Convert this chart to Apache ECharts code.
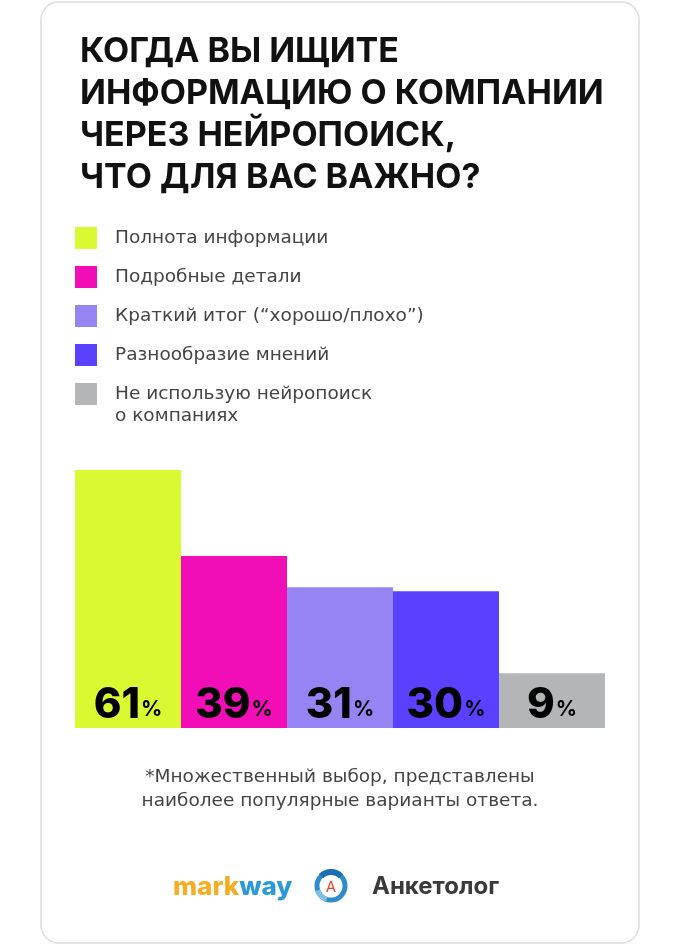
<!DOCTYPE html>
<html><head><meta charset="utf-8">
<script src="https://cdn.jsdelivr.net/npm/echarts@6/dist/echarts.min.js"></script>
<style>html,body{margin:0;padding:0;background:#fff}#c{width:680px;height:946px}</style>
</head><body><div id="c"></div>
<script>
const titleLines = ['КОГДА ВЫ ИЩИТЕ', 'ИНФОРМАЦИЮ О КОМПАНИИ', 'ЧЕРЕЗ НЕЙРОПОИСК,', 'ЧТО ДЛЯ ВАС ВАЖНО?'];
const categories = ['Полнота информации', 'Подробные детали', 'Краткий итог (“хорошо/плохо”)', 'Разнообразие мнений', 'Не использую нейропоиск'];
const categoryExtraLine = 'о компаниях';
const values = [61, 39, 31, 30, 9];
const colors = ['#DAF932', '#F10EB6', '#9584F2', '#5A41FF', '#B3B5B6'];
const footnoteLines = ['*Множественный выбор, представлены', 'наиболее популярные варианты ответа.'];
const axisStart = -5;

const FONT = 'Inter, "Open Sans", sans-serif';
const BODY = '"DejaVu Sans", sans-serif';
const chart = echarts.init(document.getElementById('c'), null, {renderer: 'canvas'});

const series = categories.map((c, i) => ({
  name: c, type: 'bar', barGap: '-100%', barCategoryGap: 0,
  itemStyle: {color: colors[i]},
  data: values.map((v, j) => j === i ? v : '-'),
  label: {
    show: true, position: 'insideBottom', distance: 0, offset: [0, -2],
    formatter: p => '{n|' + p.value + '}{p|%}',
    rich: {
      n: {fontSize: 42, fontWeight: 800, color: '#000', fontFamily: FONT},
      p: {fontSize: 21, fontWeight: 700, color: '#000', fontFamily: FONT, padding: [10, 0, 0, 1]}
    }
  }
}));

chart.setOption({
  animation: false,
  title: {
    text: titleLines.join('\n'), left: 75, top: 26,
    textStyle: {fontSize: 34, fontWeight: 700, color: '#111', lineHeight: 42, fontFamily: FONT}
  },
  legend: {
    data: categories, orient: 'vertical', left: 75, top: 227, padding: 0,
    itemWidth: 22, itemHeight: 22, itemGap: 17, icon: 'rect', selectedMode: false,
    textStyle: {fontSize: 18.5, color: '#444', fontFamily: BODY, lineHeight: 22, padding: [0, 0, 0, 13]}
  },
  grid: {left: 75, right: 75, top: 470, bottom: 218},
  xAxis: {type: 'category', data: categories, show: false},
  yAxis: {type: 'value', min: axisStart, startValue: axisStart, max: values[0], show: false},
  series: series,
  graphic: [
    {type: 'rect', shape: {x: 41, y: 2, width: 598, height: 941, r: 18}, style: {fill: 'none', stroke: '#DCDCDC', lineWidth: 1.5}, z: -1},
    {type: 'text', left: 115, top: 407, style: {text: categoryExtraLine, fontSize: 18.5, fill: '#444', fontFamily: BODY}},
    {type: 'text', style: {text: footnoteLines.join('\n'), x: 340, y: 765, textAlign: 'center', fontSize: 18.5, lineHeight: 24, fill: '#444', fontFamily: BODY}},
    {type: 'text', style: {text: '{a|mark}{b|way}', x: 173, y: 887, textVerticalAlign: 'middle',
      rich: {a: {fontSize: 26, fontWeight: 800, fill: '#F6AD22', fontFamily: FONT}, b: {fontSize: 26, fontWeight: 800, fill: '#2C9AD8', fontFamily: FONT}}}},
    {type: 'arc', shape: {cx: 331, cy: 886, r: 14, startAngle: 0, endAngle: Math.PI * 2}, style: {stroke: '#2F8CCB', lineWidth: 5, fill: 'none'}},
    {type: 'arc', shape: {cx: 331, cy: 886, r: 14, startAngle: -Math.PI * 0.75, endAngle: -Math.PI * 0.25}, style: {stroke: '#1A6FB3', lineWidth: 6, fill: 'none'}},
    {type: 'arc', shape: {cx: 331, cy: 886, r: 14, startAngle: Math.PI * 0.6, endAngle: Math.PI * 0.9}, style: {stroke: '#7FC0EA', lineWidth: 5, fill: 'none'}},
    {type: 'text', style: {text: 'А', x: 331, y: 887, textAlign: 'center', textVerticalAlign: 'middle', fontSize: 15, fill: '#E5412C', fontFamily: FONT}},
    {type: 'text', style: {text: 'Анкетолог', x: 372, y: 887, textVerticalAlign: 'middle', fontSize: 24, fontWeight: 700, fill: '#3A3A3A', fontFamily: FONT}}
  ]
});
</script></body></html>
